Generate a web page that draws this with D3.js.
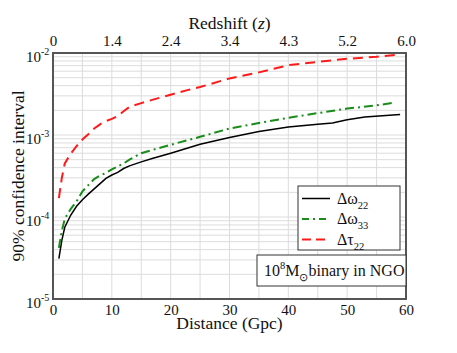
<!DOCTYPE html>
<html>
<head>
<meta charset="utf-8">
<script src="https://cdn.jsdelivr.net/npm/d3@7"></script>
<style>
  body { margin: 0; background: #fff; }
  text { font-family: "Liberation Serif", "Times New Roman", serif; fill: #111; }
</style>
</head>
<body>
<svg id="svg1" width="457" height="353"></svg>
<script>
// distance ticks (bottom) and matching redshift labels (top)
const distTicks = [0, 10, 20, 30, 40, 50, 60];
const redshiftLabels = ["0", "1.4", "2.4", "3.4", "4.3", "5.2", "6.0"];
const yExponents = [-2, -3, -4, -5];

// [distance Gpc, 90% interval]
const dOmega22 = [[1,3.1e-5],[1.5,5.2e-5],[2,7.5e-5],[3,1.05e-4],[4,1.35e-4],[5,1.62e-4],[6,1.9e-4],
  [7,2.2e-4],[8,2.55e-4],[9,2.95e-4],[10,3.25e-4],[11,3.5e-4],[12,3.9e-4],[13,4.2e-4],[15,4.7e-4],
  [17,5.2e-4],[20,6.0e-4],[25,7.7e-4],[30,9.3e-4],[35,1.1e-3],[40,1.25e-3],[45,1.35e-3],
  [47.5,1.4e-3],[50,1.53e-3],[53,1.66e-3],[56,1.72e-3],[59,1.78e-3]];
const dOmega33 = [[1,4.2e-5],[1.5,6.8e-5],[2,9.5e-5],[3,1.25e-4],[4,1.55e-4],[5,2.05e-4],[6,2.45e-4],
  [7,2.9e-4],[8,3.2e-4],[9,3.45e-4],[10,3.8e-4],[12,4.5e-4],[13,5.0e-4],[15,6.0e-4],[17,6.6e-4],
  [20,7.6e-4],[25,9.5e-4],[30,1.2e-3],[35,1.4e-3],[40,1.62e-3],[45,1.85e-3],[50,2.1e-3],
  [55,2.3e-3],[58,2.48e-3]];
const dTau22 = [[1,1.7e-4],[1.5,3.0e-4],[2,4.5e-4],[3,5.9e-4],[4,7.3e-4],[5,8.8e-4],[6,1.02e-3],
  [7,1.2e-3],[8,1.35e-3],[9,1.48e-3],[10,1.57e-3],[11,1.7e-3],[12,1.95e-3],[13,2.2e-3],[15,2.45e-3],
  [17,2.7e-3],[20,3.1e-3],[23,3.55e-3],[25,3.85e-3],[30,4.9e-3],[35,5.8e-3],[40,7.1e-3],
  [45,7.8e-3],[50,8.5e-3],[55,9.0e-3],[59,9.6e-3]];

const series = [
  { name: "ω", sub: "22", data: dOmega22, color: "#000", dash: null, width: 1.5 },
  { name: "ω", sub: "33", data: dOmega33, color: "#1a8c1a", dash: "9,4,2,4", width: 2 },
  { name: "τ", sub: "22", data: dTau22, color: "#ff1a1a", dash: "10,6", width: 2 }
];

const svg1 = d3.select("#svg1");
const margin = { top: 53, right: 51, bottom: 54, left: 53 };
const innerWidth = +svg1.attr("width") - margin.left - margin.right;
const innerHeight = +svg1.attr("height") - margin.top - margin.bottom;

const xScale = d3.scaleLinear().domain([0, 60]).range([0, innerWidth]);
const yScale = d3.scaleLog().domain([1e-5, 1e-2]).range([innerHeight, 0]);

const g = svg1.append("g").attr("transform", `translate(${margin.left},${margin.top})`);

// grid
const minorY = [];
for (let e = -5; e < -2; e++) for (let m = 1; m < 10; m++) minorY.push(m * Math.pow(10, e));
g.append("g").selectAll("line").data(minorY).enter().append("line")
  .attr("x1", 0).attr("x2", innerWidth)
  .attr("y1", d => yScale(d)).attr("y2", d => yScale(d))
  .attr("stroke", "#dcdcdc").attr("stroke-width", 1);
g.append("g").selectAll("line").data(d3.range(5, 60, 5)).enter().append("line")
  .attr("x1", d => xScale(d)).attr("x2", d => xScale(d))
  .attr("y1", 0).attr("y2", innerHeight)
  .attr("stroke", "#dcdcdc").attr("stroke-width", 1);

// curves
const line = d3.line().x(d => xScale(d[0])).y(d => yScale(d[1]));
series.forEach(s => {
  g.append("path").datum(s.data)
    .attr("d", line)
    .attr("fill", "none")
    .attr("stroke", s.color)
    .attr("stroke-width", s.width)
    .attr("stroke-dasharray", s.dash);
});

// frame
g.append("rect").attr("width", innerWidth).attr("height", innerHeight)
  .attr("fill", "none").attr("stroke", "#555").attr("stroke-width", 2);

// bottom axis labels
const bottomAxis = d3.axisBottom(xScale).tickValues(distTicks).tickSize(0).tickPadding(5);
const xAxisG = g.append("g").attr("transform", `translate(0,${innerHeight})`).call(bottomAxis);
xAxisG.select(".domain").remove();
xAxisG.selectAll("text").style("font-size", "15px").style("font-family", "Liberation Serif").attr("fill", "#111");

// top axis (redshift)
const topAxis = d3.axisTop(xScale).tickValues(distTicks).tickSize(0).tickPadding(7)
  .tickFormat((d, i) => redshiftLabels[i]);
const topG = g.append("g").call(topAxis);
topG.select(".domain").remove();
topG.selectAll("text").style("font-size", "15px").style("font-family", "Liberation Serif").attr("fill", "#111");

// y tick labels 10^k
const yl = g.append("g").selectAll("text").data(yExponents).enter().append("text")
  .attr("x", -27).attr("y", d => yScale(Math.pow(10, d)) + 9)
  .style("font-size", "15px");
yl.append("tspan").text("10");
yl.append("tspan").attr("dy", -7).style("font-size", "10px").text(d => "-" + Math.abs(d));

// axis titles
svg1.append("text").attr("x", margin.left + innerWidth / 2).attr("y", 329)
  .attr("text-anchor", "middle").style("font-size", "17.5px").text("Distance (Gpc)");
const zt = svg1.append("text").attr("x", margin.left + innerWidth / 2).attr("y", 29)
  .attr("text-anchor", "middle").style("font-size", "17.5px");
zt.append("tspan").text("Redshift (");
zt.append("tspan").style("font-style", "italic").text("z");
zt.append("tspan").text(")");
svg1.append("text")
  .attr("transform", `translate(24,${margin.top + innerHeight / 2}) rotate(-90)`)
  .attr("text-anchor", "middle").style("font-size", "17.5px").text("90% confidence interval");

// legend
const lg = svg1.append("g").attr("transform", "translate(298,186)");
lg.append("rect").attr("width", 102).attr("height", 64)
  .attr("fill", "#fff").attr("stroke", "#333").attr("stroke-width", 1);
series.forEach((s, i) => {
  const yy = 12.5 + i * 20.5;
  lg.append("line").attr("x1", 4).attr("x2", 32).attr("y1", yy).attr("y2", yy)
    .attr("stroke", s.color).attr("stroke-width", s.width)
    .attr("stroke-dasharray", s.dash === "10,6" ? "9,5" : (s.dash ? "7,4,2,4" : null));
  const t = lg.append("text").attr("x", 39).attr("y", yy + 5).style("font-size", "16px");
  t.append("tspan").text("Δ" + s.name);
  t.append("tspan").attr("dy", 5).style("font-size", "10.5px").text(s.sub);
});

// annotation box
const ab = svg1.append("g").attr("transform", "translate(257,255)");
ab.append("rect").attr("width", 149).attr("height", 31)
  .attr("fill", "#fff").attr("stroke", "#333").attr("stroke-width", 1);
const at = ab.append("text").attr("x", 7).attr("y", 21).style("font-size", "16px");
at.append("tspan").text("10");
at.append("tspan").attr("dy", -7).style("font-size", "10.5px").text("8");
at.append("tspan").attr("dy", 7).text("M");
at.append("tspan").attr("dy", 5).style("font-size", "10.5px").text("⊙");
at.append("tspan").attr("dy", -5).text("binary in NGO");
</script>
</body>
</html>
